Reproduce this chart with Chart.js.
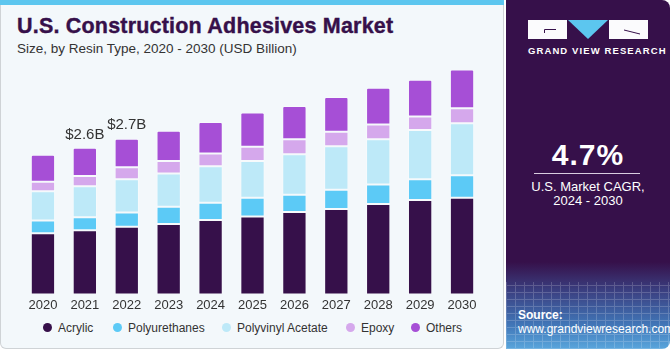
<!DOCTYPE html>
<html>
<head>
<meta charset="utf-8">
<script src="https://cdn.jsdelivr.net/npm/chart.js@4.4.1/dist/chart.umd.min.js"></script>
<style>
  html, body { margin: 0; padding: 0; }
  body { width: 670px; height: 350px; position: relative; background: #fff; font-family: "Liberation Sans", Arial, sans-serif; overflow: hidden; }
  #left { position: absolute; left: 0; top: 0; width: 502px; height: 348px; background: #f3f8fb; border: 1px solid #cfd3d6; border-top: none; border-radius: 0 0 6px 6px; }
  #topbar { position: absolute; left: 0; top: 0; width: 504px; height: 5px; background: #5cc6ef; }
  #title { position: absolute; left: 17px; top: 14px; font-size: 21.5px; font-weight: bold; color: #36104a; white-space: nowrap; letter-spacing: 0.2px; -webkit-text-stroke: 0.4px #36104a; }
  #subtitle { position: absolute; left: 17px; top: 41px; font-size: 13.5px; color: #333; white-space: nowrap; }
  #chartBox { position: absolute; left: 0; top: 58px; width: 505px; height: 258px; }
  #legend { position: absolute; left: 0; top: 319px; height: 18px; width: 505px; }
  .lg { position: absolute; top: 0; font-size: 12px; color: #333; white-space: nowrap; line-height: 18px; }
  .lg i { position: absolute; left: -15px; top: 4px; width: 9px; height: 9px; border-radius: 50%; }
  #right { position: absolute; left: 506px; top: 0; width: 164px; height: 349px; border-radius: 0 8px 8px 0;
    background: linear-gradient(180deg, #36104a 0px, #36104a 262px, #3b3f80 290px, #4277b8 325px, #5aa6dc 349px); overflow: hidden; }
  #grid { position: absolute; left: 0; top: 282px; width: 164px; height: 67px; opacity: 0.18;
    background-image: repeating-linear-gradient(0deg, #fff 0 1px, transparent 1px 7px), repeating-linear-gradient(90deg, #fff 0 1px, transparent 1px 9px); }
  .blk { position: absolute; top: 20px; width: 39px; height: 19px; background-color: #fbfbfd; z-index: 2; }
  #logo { position: absolute; left: 22px; top: 20px; z-index: 3; }
  #gvr { position: absolute; left: 22px; top: 45px; width: 120px; text-align: center; color: #fff; font-size: 9.5px; font-weight: bold; letter-spacing: 1.1px; white-space: nowrap; }
  #cagr { position: absolute; left: 0; top: 138px; width: 164px; text-align: center; color: #fff; font-size: 30px; font-weight: bold; letter-spacing: 1px; }
  #rule { position: absolute; left: 28px; top: 173px; width: 106px; height: 1px; background: #d9cde0; }
  #cagrTxt { position: absolute; left: 0; top: 180px; width: 164px; text-align: center; color: #fff; font-size: 13px; line-height: 14px; }
  #src { position: absolute; left: 12px; top: 308px; color: #fff; font-size: 12px; line-height: 14px; }
</style>
</head>
<body>
<div id="left"></div>
<div id="topbar"></div>
<div id="title">U.S. Construction Adhesives Market</div>
<div id="subtitle">Size, by Resin Type, 2020 - 2030 (USD Billion)</div>
<div id="chartBox"><canvas id="chart"></canvas></div>
<div id="legend"></div>

<div id="right">
  <div id="grid"></div>
  <div class="blk" style="left:22px"></div>
  <div class="blk" style="left:103px"></div>
  <svg id="logo" width="120" height="20">
    <polygon points="40,0 80,0 60,19" fill="#5cc6ef"/>
    <polyline points="28,9.5 16.5,9.5 16.5,13" fill="none" stroke="#36104a" stroke-width="1"/>
    <line x1="96" y1="10" x2="112" y2="14" stroke="#36104a" stroke-width="1"/>
  </svg>
  <div id="gvr">GRAND VIEW RESEARCH</div>
  <div id="cagr">4.7%</div>
  <div id="rule"></div>
  <div id="cagrTxt">U.S. Market CAGR,<br>2024 - 2030</div>
  <div id="src"><b>Source:</b><br>www.grandviewresearch.com</div>
</div>

<script>
// years and segment values (USD Billion)
const years = ['2020', '2021', '2022', '2023', '2024', '2025', '2026', '2027', '2028', '2029', '2030'];
const acrylic = [1.07, 1.12, 1.18, 1.23, 1.30, 1.36, 1.44, 1.49, 1.58, 1.65, 1.69];
const polyurethanes = [0.22, 0.23, 0.25, 0.30, 0.30, 0.33, 0.30, 0.34, 0.34, 0.36, 0.39];
const polyvinylAcetate = [0.51, 0.54, 0.58, 0.58, 0.64, 0.64, 0.71, 0.76, 0.79, 0.86, 0.91];
const epoxy = [0.17, 0.18, 0.21, 0.22, 0.22, 0.25, 0.26, 0.25, 0.26, 0.24, 0.26];
const others = [0.47, 0.49, 0.50, 0.53, 0.55, 0.60, 0.58, 0.61, 0.64, 0.64, 0.68];
const totalLabels = ['', '$2.6B', '$2.7B', '', '', '', '', '', '', '', ''];

const seriesNames = ['Acrylic', 'Polyurethanes', 'Polyvinyl Acetate', 'Epoxy', 'Others'];
const seriesColors = ['#36104a', '#5ccaf6', '#bde9f8', '#d5a8ec', '#a64fd6'];
const seriesData = [acrylic, polyurethanes, polyvinylAcetate, epoxy, others];

// legend (html, left positions of label text)
const legendX = [58, 128, 237, 361, 426];
document.getElementById('legend').innerHTML = seriesNames.map((n, i) =>
  `<div class="lg" style="left:${legendX[i]}px"><i style="background:${seriesColors[i]}"></i>${n}</div>`
).join('');

// draws "$2.6B" style labels above the stacks
const totalsPlugin = {
  id: 'totals',
  afterDatasetsDraw(chart) {
    const ctx = chart.ctx;
    const top = chart.getDatasetMeta(seriesData.length - 1);
    ctx.save();
    ctx.font = '15px "Liberation Sans", Arial, sans-serif';
    ctx.fillStyle = '#333';
    ctx.textAlign = 'center';
    ctx.textBaseline = 'bottom';
    totalLabels.forEach((t, i) => {
      if (!t) return;
      const bar = top.data[i];
      ctx.fillText(t, bar.x, bar.y - 6);
    });
    ctx.restore();
  }
};

new Chart(document.getElementById('chart'), {
  type: 'bar',
  data: {
    labels: years,
    datasets: seriesNames.map((n, i) => ({
      label: n,
      data: seriesData[i],
      backgroundColor: seriesColors[i],
      borderColor: 'rgba(255,255,255,0.35)',
      borderWidth: 1,
      borderSkipped: false,
      borderRadius: i === seriesNames.length - 1 ? { topLeft: 2, topRight: 2 } : 0,
      barPercentage: 0.58,
      categoryPercentage: 1
    }))
  },
  options: {
    responsive: true,
    maintainAspectRatio: false,
    animation: false,
    layout: { padding: { left: 22, right: 22, top: 0, bottom: 0 } },
    plugins: { legend: { display: false }, tooltip: { enabled: false } },
    scales: {
      x: {
        stacked: true,
        grid: { display: false, drawTicks: false },
        border: { display: false },
        ticks: { color: '#333', font: { size: 13, family: '"Liberation Sans", Arial, sans-serif' }, padding: 3 }
      },
      y: { stacked: true, display: false, min: 0, max: 4.13 }
    }
  },
  plugins: [totalsPlugin]
});
</script>
</body>
</html>
